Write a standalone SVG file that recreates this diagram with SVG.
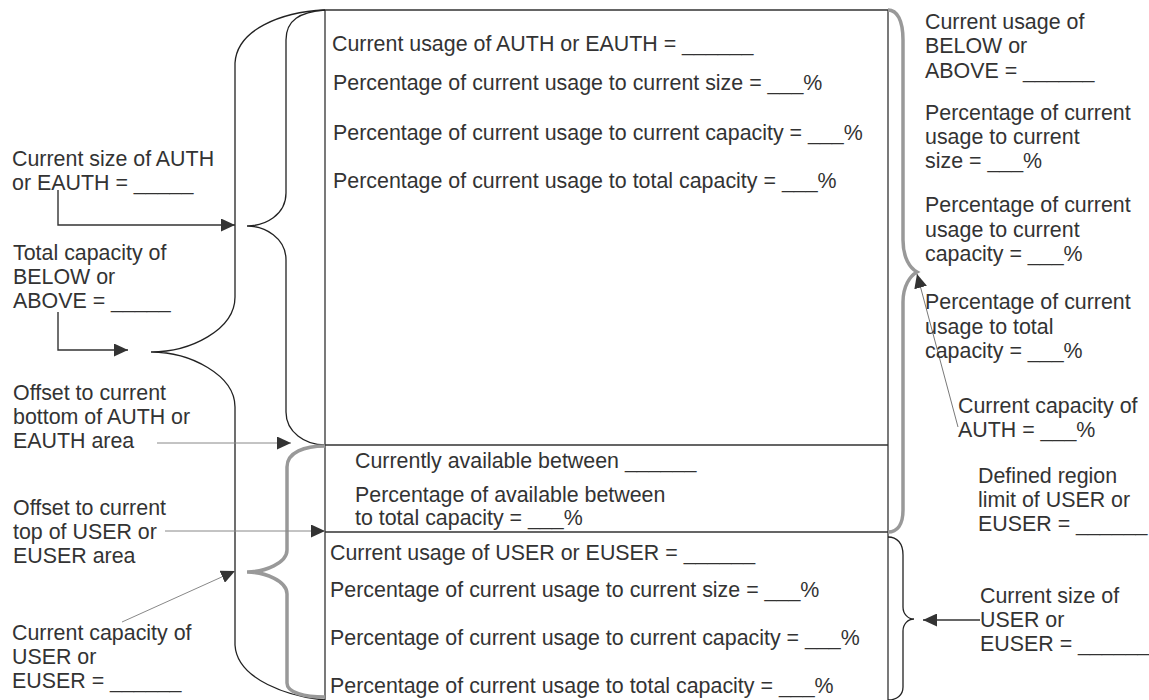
<svg xmlns="http://www.w3.org/2000/svg" width="1149" height="700" viewBox="0 0 1149 700">
<style>
text{font-family:"Liberation Sans",Arial,Helvetica,sans-serif;font-size:21.4px;fill:#333}
.box{fill:none;stroke:#333;stroke-width:1.3}
.brace{fill:none;stroke:#222;stroke-width:1.3}
.gbrace{fill:none;stroke:#999;stroke-width:3.5}
.dark{fill:none;stroke:#333;stroke-width:1.4}
.thin{fill:none;stroke:#888;stroke-width:1}
.thind{fill:none;stroke:#555;stroke-width:0.8}
</style>
<defs>
<marker id="ah" markerUnits="userSpaceOnUse" markerWidth="15" markerHeight="13" refX="14" refY="6.5" orient="auto">
<path d="M0,0 L14,6.5 L0,13 z" fill="#333"/>
</marker>
</defs>
<rect width="1149" height="700" fill="#fff"/>

<g id="box">
<path class="box" d="M325,10 H888 M325,10 V700 M888,10 V700 M325,445 H888 M325,532 H888"/>
</g>

<g id="braces">
<path class="brace" d="M325,10 C280,12 237,30 235,63 L235,297 C235,330 190,352 151,352 C190,352 235,375 235,407 L235,645 C237,680 290,697 325,700"/>
<path class="brace" d="M325,10 C300,12 286,20 286,40 L286,193 C286,215 265,226 247,226 C265,226 286,238 286,260 L286,412 C286,432 305,445 325,445"/>
<path class="gbrace" d="M325,446 C305,446 287,452 287,467 L287,550 C287,563 265,572 247,572 C265,572 287,581 287,594 L287,683 C287,693 305,697 325,697"/>
<path class="gbrace" d="M888,10 C897,10 903,20 903,40 L903,240 C903,258 910,268 917,272 C910,276 903,286 903,302 L903,510 C903,525 897,532 888,532"/>
<path class="brace" d="M888,537 C897,537 903,543 903,555 L903,607 C903,614 908,619 914,619 C908,619 903,624 903,631 L903,687 C903,695 897,700 888,700"/>
</g>

<g id="connectors">
<polyline class="dark" points="58,190 58,225 235,225" marker-end="url(#ah)"/>
<polyline class="dark" points="58,312 58,350 128,350" marker-end="url(#ah)"/>
<line class="thin" x1="157" y1="443" x2="291" y2="443" marker-end="url(#ah)"/>
<line class="thin" x1="165" y1="531" x2="325" y2="531" marker-end="url(#ah)"/>
<line class="thin" x1="122" y1="622" x2="235" y2="571" marker-end="url(#ah)"/>
<line class="thind" x1="958" y1="427" x2="917" y2="274" marker-end="url(#ah)"/>
<line class="dark" x1="980" y1="620" x2="923" y2="620" marker-end="url(#ah)"/>
</g>

<g id="auth-area">
<text x="332" y="51">Current usage of AUTH or EAUTH = ______</text>
<text x="333" y="90">Percentage of current usage to current size = ___%</text>
<text x="333" y="140">Percentage of current usage to current capacity = ___%</text>
<text x="333" y="188">Percentage of current usage to total capacity = ___%</text>
</g>

<g id="between-area">
<text x="355" y="468">Currently available between ______</text>
<text x="355" y="502">Percentage of available between</text>
<text x="355" y="525">to total capacity = ___%</text>
</g>

<g id="user-area">
<text x="330" y="560">Current usage of USER or EUSER = ______</text>
<text x="330" y="597">Percentage of current usage to current size = ___%</text>
<text x="330" y="645">Percentage of current usage to current capacity = ___%</text>
<text x="330" y="693">Percentage of current usage to total capacity = ___%</text>
</g>

<g id="label-auth-size">
<text x="12" y="166">Current size of AUTH</text>
<text x="12" y="190">or EAUTH = _____</text>
</g>
<g id="label-total-capacity">
<text x="13" y="260">Total capacity of</text>
<text x="13" y="284">BELOW or</text>
<text x="13" y="308">ABOVE = _____</text>
</g>
<g id="label-offset-bottom">
<text x="13" y="400">Offset to current</text>
<text x="13" y="424">bottom of AUTH or</text>
<text x="13" y="448">EAUTH area</text>
</g>
<g id="label-offset-top">
<text x="13" y="515">Offset to current</text>
<text x="13" y="539">top of USER or</text>
<text x="13" y="563">EUSER area</text>
</g>
<g id="label-user-capacity">
<text x="12" y="640">Current capacity of</text>
<text x="12" y="664">USER or</text>
<text x="12" y="688">EUSER = ______</text>
</g>

<g id="label-below-usage">
<text x="925" y="29">Current usage of</text>
<text x="925" y="53">BELOW or</text>
<text x="925" y="78">ABOVE = ______</text>
</g>
<g id="label-below-pct-size">
<text x="925" y="120">Percentage of current</text>
<text x="925" y="144">usage to current</text>
<text x="925" y="168">size = ___%</text>
</g>
<g id="label-below-pct-capacity">
<text x="925" y="212">Percentage of current</text>
<text x="925" y="237">usage to current</text>
<text x="925" y="261">capacity = ___%</text>
</g>
<g id="label-below-pct-total">
<text x="925" y="309">Percentage of current</text>
<text x="925" y="334">usage to total</text>
<text x="925" y="358">capacity = ___%</text>
</g>
<g id="label-auth-capacity">
<text x="958" y="413">Current capacity of</text>
<text x="958" y="437">AUTH = ___%</text>
</g>
<g id="label-region-limit">
<text x="978" y="483">Defined region</text>
<text x="978" y="507">limit of USER or</text>
<text x="978" y="531">EUSER = ______</text>
</g>
<g id="label-user-size">
<text x="980" y="603">Current size of</text>
<text x="980" y="627">USER or</text>
<text x="980" y="651">EUSER = ______</text>
</g>
</svg>
